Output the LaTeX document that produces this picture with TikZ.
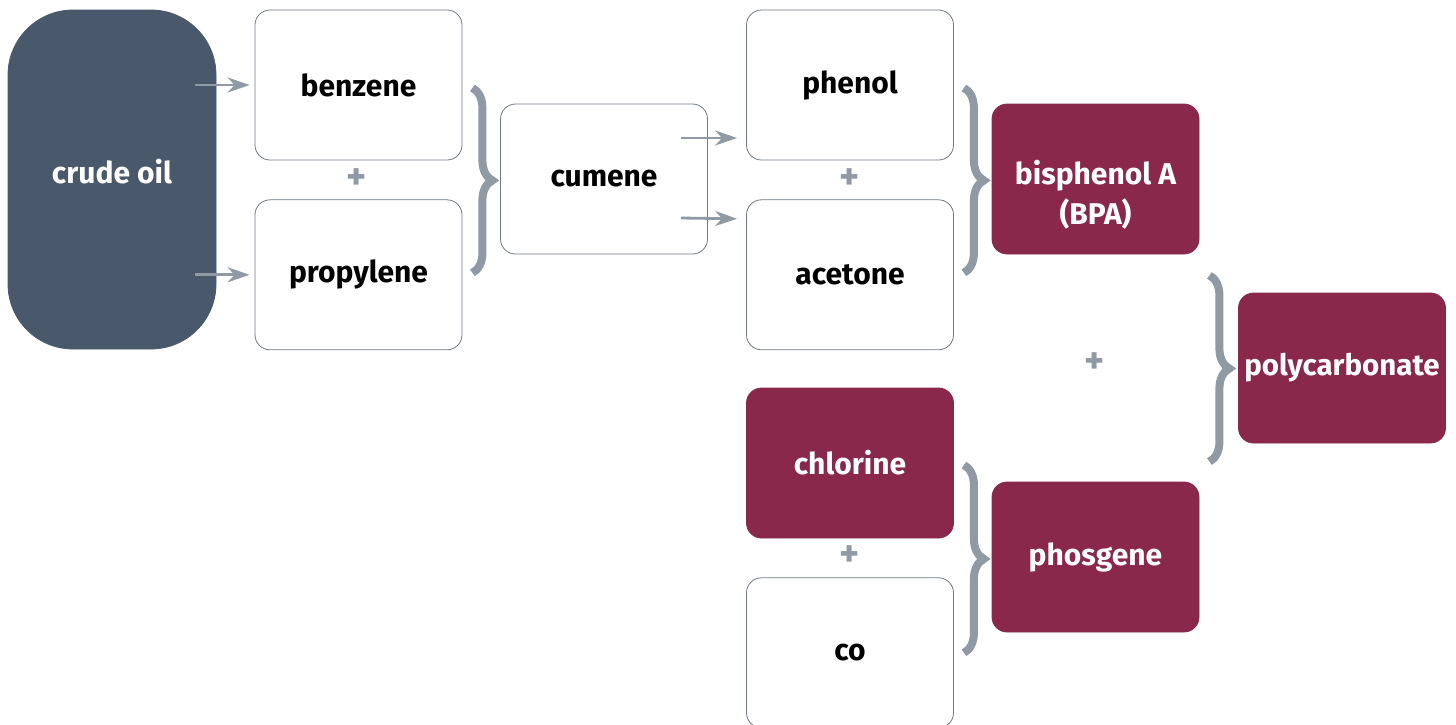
\documentclass[tikz,border=0pt]{standalone}
\usepackage{fontspec}
\setmainfont{Fira Sans}
\usetikzlibrary{arrows.meta, positioning, decorations.pathreplacing}
\definecolor{slate}{HTML}{4A586B}
\definecolor{wine}{HTML}{8A284B}
\definecolor{rim}{HTML}{6E7886}
\definecolor{steel}{HTML}{8F9AA5}

\begin{document}
\begin{tikzpicture}[x=1pt, y=1pt,
  node distance=39pt and 38pt,
  wbox/.style={draw=rim, line width=0.8pt, rounded corners=15pt, fill=white, align=center,
               font=\fontsize{30}{40}\selectfont\bfseries,
               minimum width=207pt, minimum height=150pt, inner sep=0pt},
  rbox/.style={wbox, draw=wine, fill=wine, text=white},
  oil/.style={wbox, draw=slate, fill=slate, text=white, rounded corners=65pt,
              minimum width=208pt, minimum height=339pt},
  plus/.style={text=steel, font=\fontsize{38}{38}\selectfont\bfseries, inner sep=0pt},
  arr/.style={draw=steel, line width=2.8pt, -{Stealth[length=22pt, width=15pt, inset=7pt]}},
  brc/.style={draw=steel, line width=8pt, decorate, decoration={brace, amplitude=20pt}}]
\useasboundingbox (0,0) rectangle (1456,-724);
% feedstock
\node[oil, text height=9pt] (crude) at (112,-179.5) {crude oil};
\node[wbox] (benzene) at (358.5,-85) {benzene};
\node[wbox, below=of benzene] (propylene) {propylene};
\node[wbox] (cumene) at (604,-179) {cumene};
% cumene process
\node[wbox] (phenol) at (850,-85) {phenol};
\node[wbox, below=of phenol] (acetone) {acetone};
\node[rbox, text height=95pt] (bpa) at (1095.5,-179) {bisphenol A\\(BPA)};
% phosgene route
\node[rbox] (chlorine) at (850,-463) {chlorine};
\node[wbox, below=of chlorine] (co) {co};
\node[rbox] (phosgene) at (1095.5,-557) {phosgene};
\node[rbox, font=\fontsize{29.5}{40}\selectfont\bfseries] (pc) at (1342,-368) {polycarbonate};
% plus signs
\node[plus] (p1) at (357,-179) {+};
\node[plus] (p2) at (850,-179) {+};
\node[plus] (p3) at (850,-556) {+};
\node[plus] (p4) at (1095,-363) {+};
% arrows
\draw[arr] ([xshift=-21pt]crude.east |- benzene.west) -- ([xshift=-5pt]benzene.west);
\draw[arr] ([xshift=-21pt]crude.east |- propylene.west) -- ([xshift=-5pt]propylene.west);
\draw[arr] ([xshift=-27pt,yshift=41pt]cumene.east) -- ([xshift=-9pt,yshift=-53pt]phenol.west);
\draw[arr] ([xshift=-27pt,yshift=-39pt]cumene.east) -- ([xshift=-9pt,yshift=56pt]acetone.west);
% braces
\draw[brc] ([xshift=10pt,yshift=-3pt]benzene.east) -- ([xshift=10pt,yshift=2pt]propylene.east);
\draw[brc] ([xshift=10pt,yshift=-3pt]phenol.east) -- ([xshift=10pt,yshift=2pt]acetone.east);
\draw[brc] ([xshift=10pt,yshift=-2pt]chlorine.east) -- ([xshift=10pt,yshift=0pt]co.east);
\draw[brc] ([xshift=10pt,yshift=-21pt]bpa.south east) -- ([xshift=10pt,yshift=20pt]phosgene.north east);
\end{tikzpicture}
\end{document}
